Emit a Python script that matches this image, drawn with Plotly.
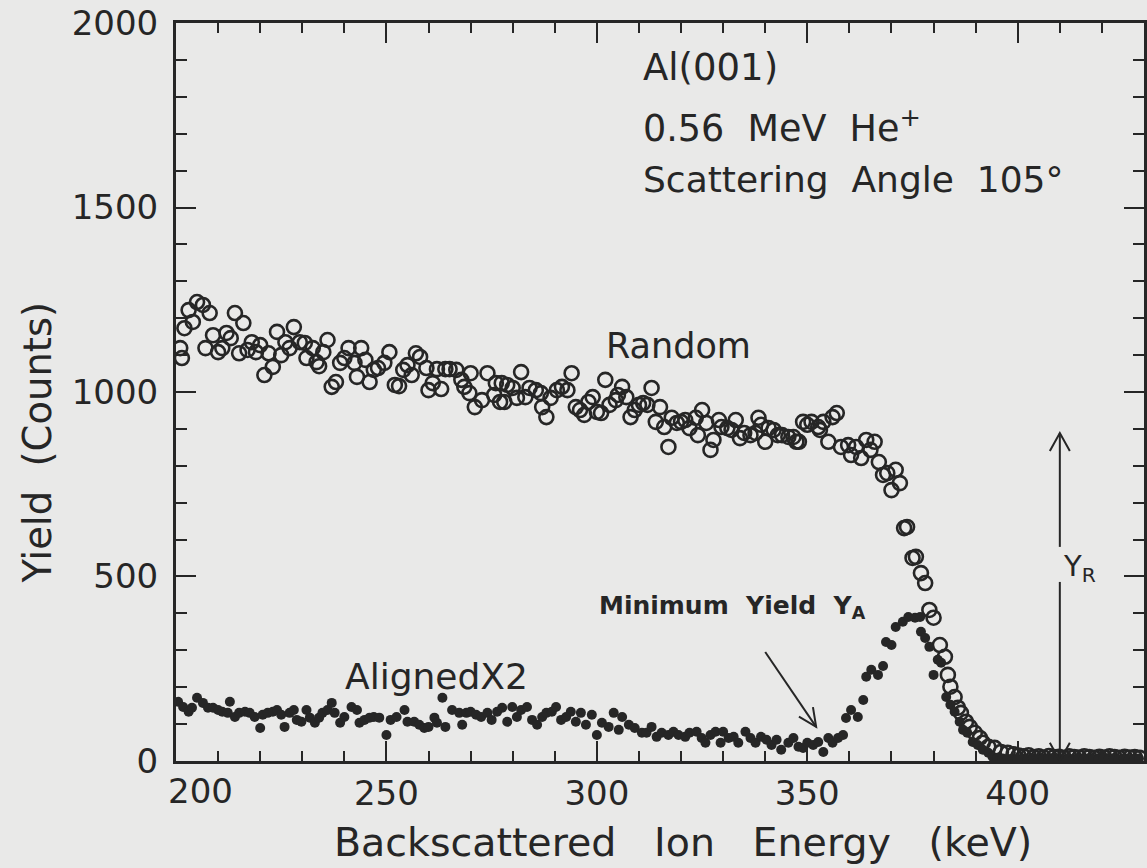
import numpy as np
import plotly.graph_objects as go

# ---- RBS spectra: Al(001), 0.56 MeV He+, scattering angle 105 deg ----
random_energy = [
    201.0, 201.4, 202.0, 203.0, 204.0, 205.0, 206.4, 207.0, 208.0, 208.8,
    210.0, 211.0, 212.0, 213.0, 214.0, 215.0, 216.0, 217.0, 218.0, 219.0,
    220.0, 221.0, 222.0, 223.0, 224.0, 225.0, 226.0, 227.0, 228.0, 229.4,
    230.6, 231.0, 232.5, 233.4, 234.0, 235.0, 236.0, 237.0, 238.0, 239.0,
    240.0, 241.0, 242.4, 243.0, 244.0, 245.0, 246.0, 247.0, 248.0, 249.5,
    250.7, 252.0, 253.0, 254.0, 255.0, 256.0, 257.0, 258.0, 259.5, 260.0,
    261.0, 262.0, 263.0, 264.0, 265.0, 266.6, 267.8, 268.5, 269.7, 270.0,
    271.0, 272.7, 274.0, 275.6, 276.0, 277.0, 277.4, 278.0, 278.7, 280.0,
    281.0, 282.0, 283.0, 284.0, 285.5, 286.7, 287.0, 288.0, 289.0, 290.5,
    291.7, 293.0, 294.0, 295.0, 296.0, 297.0, 298.0, 299.0, 300.0, 301.0,
    302.0, 303.0, 304.5, 305.0, 306.0, 307.0, 308.0, 309.0, 310.0, 311.0,
    312.0, 313.0, 314.0, 315.0, 316.0, 317.0, 317.8, 319.0, 320.0, 321.0,
    322.0, 323.5, 324.0, 325.0, 326.0, 327.0, 327.7, 329.0, 329.6, 331.0,
    332.0, 333.0, 334.0, 335.0, 336.5, 337.7, 338.4, 339.0, 340.0, 340.8,
    342.0, 343.0, 344.0, 345.5, 346.7, 347.4, 348.0, 349.0, 350.0, 351.0,
    352.6, 353.0, 353.8, 355.0, 356.0, 357.0, 358.0, 359.7, 360.4, 361.6,
    362.8, 364.0, 365.0, 366.0, 367.0, 368.0, 369.0, 370.0, 371.0, 372.0,
    373.0, 373.7, 375.0, 375.8, 377.0, 378.0, 379.0, 380.0, 381.5, 382.7,
    383.4, 384.0, 385.0, 385.8, 386.5, 387.7, 388.6, 389.8, 391.0, 391.7,
    393.0, 394.5, 396.0, 397.6, 399.0, 400.2, 401.4, 402.6, 403.8, 405.0,
    406.2, 407.4, 408.6, 409.8, 411.0, 412.2, 413.4, 414.6, 415.8, 417.0,
    418.2, 419.4, 420.6, 421.8, 423.0, 424.2, 425.4, 426.6, 427.8, 429.0,
]
random_counts = [
    1119, 1092, 1173, 1222, 1190, 1244, 1236, 1119, 1214, 1154,
    1108, 1119, 1160, 1146, 1214, 1105, 1187, 1114, 1135, 1108,
    1127, 1046, 1105, 1068, 1163, 1100, 1135, 1119, 1176, 1135,
    1133, 1092, 1119, 1081, 1070, 1108, 1141, 1014, 1027, 1079,
    1092, 1119, 1079, 1041, 1119, 1087, 1027, 1060, 1065, 1079,
    1108, 1019, 1016, 1060, 1073, 1046, 1105, 1095, 1065, 1005,
    1024, 1062, 1008, 1062, 1062, 1060, 1033, 1014, 997, 1051,
    959, 978, 1051, 992, 1024, 973, 1024, 973, 1019, 1011,
    984, 1054, 986, 1011, 1005, 997, 959, 932, 984, 1005,
    1014, 1005, 1051, 959, 951, 938, 973, 986, 946, 943,
    1033, 965, 978, 992, 1014, 986, 932, 951, 965, 970,
    965, 1011, 919, 959, 905, 851, 930, 916, 919, 924,
    902, 930, 883, 951, 916, 843, 870, 924, 905, 902,
    897, 924, 875, 889, 883, 889, 930, 911, 865, 902,
    897, 883, 883, 878, 878, 865, 865, 919, 911, 919,
    905, 897, 919, 865, 932, 943, 851, 856, 829, 851,
    821, 870, 843, 865, 810, 775, 780, 734, 789, 753,
    631, 634, 550, 553, 509, 482, 409, 388, 314, 282,
    233, 201, 173, 144, 130, 106, 92, 76, 62, 49,
    38, 35, 24, 22, 18, 14, 12, 15, 10, 12,
    9, 13, 10, 11, 8, 12, 10, 9, 12, 10,
    8, 11, 9, 12, 10, 8, 11, 9, 10, 8,
]

aligned_energy = [
    200.5, 201.7, 203.0, 203.8, 205.0, 206.4, 207.6, 208.8, 210.0, 211.0,
    212.3, 212.8, 214.0, 215.0, 216.4, 217.5, 218.7, 220.0, 220.6, 221.8,
    223.0, 224.0, 225.0, 225.8, 227.0, 228.0, 228.7, 229.8, 231.0, 231.8,
    233.0, 234.0, 234.8, 236.0, 237.0, 237.7, 239.0, 240.0, 241.7, 243.0,
    243.6, 244.8, 246.0, 247.0, 248.3, 250.0, 251.0, 252.4, 254.3, 255.0,
    256.6, 257.8, 259.0, 260.0, 261.4, 262.0, 263.3, 264.0, 265.6, 267.3,
    268.0, 269.0, 270.0, 271.3, 272.5, 274.0, 275.0, 276.3, 277.5, 278.7,
    279.9, 281.0, 282.0, 283.4, 284.6, 285.8, 287.0, 288.0, 289.3, 290.3,
    291.5, 292.7, 293.8, 295.0, 296.2, 297.4, 298.8, 300.0, 301.2, 302.8,
    304.0, 305.2, 306.0, 307.6, 309.0, 310.7, 311.8, 313.0, 314.2, 315.4,
    317.0, 318.2, 319.4, 321.0, 322.0, 323.7, 324.9, 325.8, 327.0, 328.2,
    329.4, 330.0, 331.3, 332.5, 333.6, 335.3, 336.5, 337.7, 339.0, 340.3,
    341.5, 342.7, 343.8, 345.5, 346.7, 347.9, 349.0, 350.0, 351.4, 352.6,
    353.8, 355.0, 356.0, 357.3, 358.5, 359.2, 360.4, 362.0, 363.3, 364.0,
    365.2, 366.8, 368.0, 368.7, 370.0, 371.0, 372.7, 374.0, 375.6, 376.8,
    377.0, 378.0, 379.0, 380.0, 381.0, 381.8, 383.0, 384.0, 385.0, 386.2,
    387.0, 388.0, 389.3, 390.5, 391.7, 393.0, 394.0, 395.2, 396.4, 397.6,
    398.8, 400.0, 401.2, 402.4, 403.6, 404.8, 406.0, 407.2, 408.4, 409.6,
    410.8, 412.0, 413.2, 414.4, 415.6, 416.8, 418.0, 419.2, 420.4, 421.6,
    422.8, 424.0, 425.2, 426.4, 427.6, 428.8,
]
aligned_counts = [
    160, 146, 133, 144, 171, 157, 144, 144, 138, 133,
    130, 160, 119, 130, 133, 130, 119, 89, 125, 130,
    133, 138, 125, 92, 130, 138, 111, 106, 138, 117,
    103, 117, 130, 138, 157, 130, 103, 119, 146, 138,
    103, 111, 117, 119, 117, 70, 111, 119, 138, 106,
    106, 98, 89, 92, 117, 103, 171, 92, 138, 130,
    98, 130, 133, 125, 119, 130, 111, 133, 144, 106,
    146, 119, 138, 146, 111, 98, 119, 130, 133, 146,
    111, 119, 133, 106, 130, 98, 125, 70, 103, 92,
    130, 84, 119, 98, 89, 76, 76, 92, 65, 76,
    70, 79, 70, 65, 76, 79, 62, 49, 70, 79,
    49, 79, 62, 65, 49, 79, 62, 49, 65, 57,
    43, 57, 30, 49, 62, 38, 35, 49, 43, 51,
    24, 62, 49, 62, 70, 116, 138, 119, 165, 228,
    247, 233, 257, 322, 314, 363, 377, 390, 388, 390,
    350, 333, 309, 233, 274, 266, 173, 152, 133, 106,
    84, 76, 51, 43, 30, 22, 11, 8, 6, 5,
    7, 4, 6, 5, 7, 4, 6, 5, 7, 5,
    4, 6, 5, 7, 4, 6, 5, 4, 6, 5,
    7, 4, 6, 5, 4, 6,
]

x_ticks = [200, 250, 300, 350, 400]
y_ticks = [0, 500, 1000, 1500, 2000]

# Y_R marker: vertical double arrow with a gap for its label
yr_energy = 410.0
yr_top = 889.0
yr_gap_hi = 580.0
yr_gap_lo = 485.0

# "Minimum Yield" pointer (tail -> tip)
ya_tail = (340.0, 295.0)
ya_tip = (352.1, 92.0)

# ---- layout geometry ----
W, H = 1147, 868
ML, MR, MT, MB = 176, 0, 23, 107
X_RANGE = [200, 430]
Y_RANGE = [-0.5, 2000.5]
px_per_x = (W - ML - MR) / (X_RANGE[1] - X_RANGE[0])
px_per_y = (H - MT - MB) / (Y_RANGE[1] - Y_RANGE[0])

INK = "#262626"
FONT = "DejaVu Sans"
SP = "\u00a0"          # non-breaking space keeps the wide word gaps
GAP2 = " " + SP
GAP3 = " " + SP + SP

fig = go.Figure()
fig.add_trace(go.Scatter(
    x=random_energy, y=random_counts, mode="markers", name="Random",
    marker=dict(symbol="circle-open", size=14, color=INK, line=dict(width=2.6, color=INK)),
    cliponaxis=True,
))
fig.add_trace(go.Scatter(
    x=aligned_energy, y=aligned_counts, mode="markers", name="AlignedX2",
    marker=dict(symbol="circle", size=10, color=INK),
    cliponaxis=True,
))

shapes = []
# Y_R shaft (two segments around the label)
for y0, y1 in [(yr_gap_hi, yr_top), (0, yr_gap_lo)]:
    shapes.append(dict(type="line", xref="x", yref="y", x0=yr_energy, x1=yr_energy,
                       y0=y0, y1=y1, line=dict(color=INK, width=2)))
# open V heads, sized in pixels
shapes.append(dict(type="path", xref="x", yref="y", xsizemode="pixel", ysizemode="pixel",
                   xanchor=yr_energy, yanchor=yr_top, path="M -10,-18 L 0,0 L 10,-18",
                   line=dict(color=INK, width=2)))
shapes.append(dict(type="path", xref="x", yref="y", xsizemode="pixel", ysizemode="pixel",
                   xanchor=yr_energy, yanchor=0, path="M -10,18 L 0,0 L 10,18",
                   line=dict(color=INK, width=2)))

# Minimum-yield pointer
shapes.append(dict(type="line", xref="x", yref="y", x0=ya_tail[0], y0=ya_tail[1],
                   x1=ya_tip[0], y1=ya_tip[1], line=dict(color=INK, width=2)))
d = np.array([(ya_tail[0] - ya_tip[0]) * px_per_x, (ya_tail[1] - ya_tip[1]) * px_per_y])
d = d / np.linalg.norm(d)
wings = []
for ang in (np.radians(25), -np.radians(25)):
    c, s = np.cos(ang), np.sin(ang)
    wings.append(20 * np.array([d[0] * c - d[1] * s, d[0] * s + d[1] * c]))
shapes.append(dict(type="path", xref="x", yref="y", xsizemode="pixel", ysizemode="pixel",
                   xanchor=ya_tip[0], yanchor=ya_tip[1],
                   path=f"M {wings[0][0]:.1f},{wings[0][1]:.1f} L 0,0 L {wings[1][0]:.1f},{wings[1][1]:.1f}",
                   line=dict(color=INK, width=2)))

annotations = [
    dict(text="Al(001)", x=310.4, y=1881, xanchor="left", yanchor="middle", size=37),
    dict(text=f"0.56{GAP2}MeV{GAP2}He<sup>+</sup>", x=310.4, y=1722, xanchor="left",
         yanchor="middle", size=36.5),
    dict(text=f"Scattering{GAP2}Angle{GAP2}105°", x=310.4, y=1575, xanchor="left",
         yanchor="middle", size=36),
    dict(text="Random", x=319.4, y=1125, xanchor="center", yanchor="middle", size=35),
    dict(text="AlignedX2", x=261.8, y=228, xanchor="center", yanchor="middle", size=36),
    dict(text=f"<b>Minimum{GAP2}Yield{GAP2}Y<sub>A</sub></b>", x=300.0, y=418,
         xanchor="left", yanchor="middle", size=25),
    dict(text="Y<sub>R</sub>", x=410.2, y=523, xanchor="left", yanchor="middle", size=29),
    # first x tick label sits just right of the corner
    dict(text="200", x=200, y=0, xref="x", yref="paper", xanchor="center", yanchor="top",
         xshift=24, yshift=-8, size=34),
    dict(text=f"Backscattered{GAP3}Ion{GAP3}Energy{GAP3}(keV)", xref="paper", yref="paper",
         x=0.524, y=-0.1098, xanchor="center", yanchor="middle", size=39.5),
    dict(text=f"Yield{GAP2}(Counts)", xref="paper", yref="paper", x=-0.1432, y=0.432,
         xanchor="center", yanchor="middle", textangle=-90, size=38.5),
]
for a in annotations:
    a.setdefault("xref", "x")
    a.setdefault("yref", "y")
    a["showarrow"] = False
    a["font"] = dict(family=FONT, color=INK, size=a.pop("size"))

axis_common = dict(
    showline=True, linewidth=3, linecolor=INK, mirror="allticks",
    ticks="inside", ticklen=20, tickwidth=2, tickcolor=INK,
    showgrid=False, zeroline=False,
    tickfont=dict(family=FONT, size=34, color=INK),
)

fig.update_layout(
    width=W, height=H,
    margin=dict(l=ML, r=MR, t=MT, b=MB, pad=0),
    paper_bgcolor="#e9e9e8", plot_bgcolor="#e9e9e8",
    showlegend=False,
    shapes=shapes,
    annotations=annotations,
    xaxis=dict(range=X_RANGE, tickvals=x_ticks,
               ticktext=[""] + [str(v) for v in x_ticks[1:]],
               minor=dict(ticks="inside", ticklen=10, tickwidth=2, tickcolor=INK, dtick=10),
               **axis_common),
    yaxis=dict(range=Y_RANGE, tickvals=y_ticks, ticktext=[str(v) for v in y_ticks],
               ticklabelstandoff=8,
               minor=dict(ticks="inside", ticklen=11, tickwidth=2, tickcolor=INK, dtick=100),
               **axis_common),
)

fig.write_html("out.html")
